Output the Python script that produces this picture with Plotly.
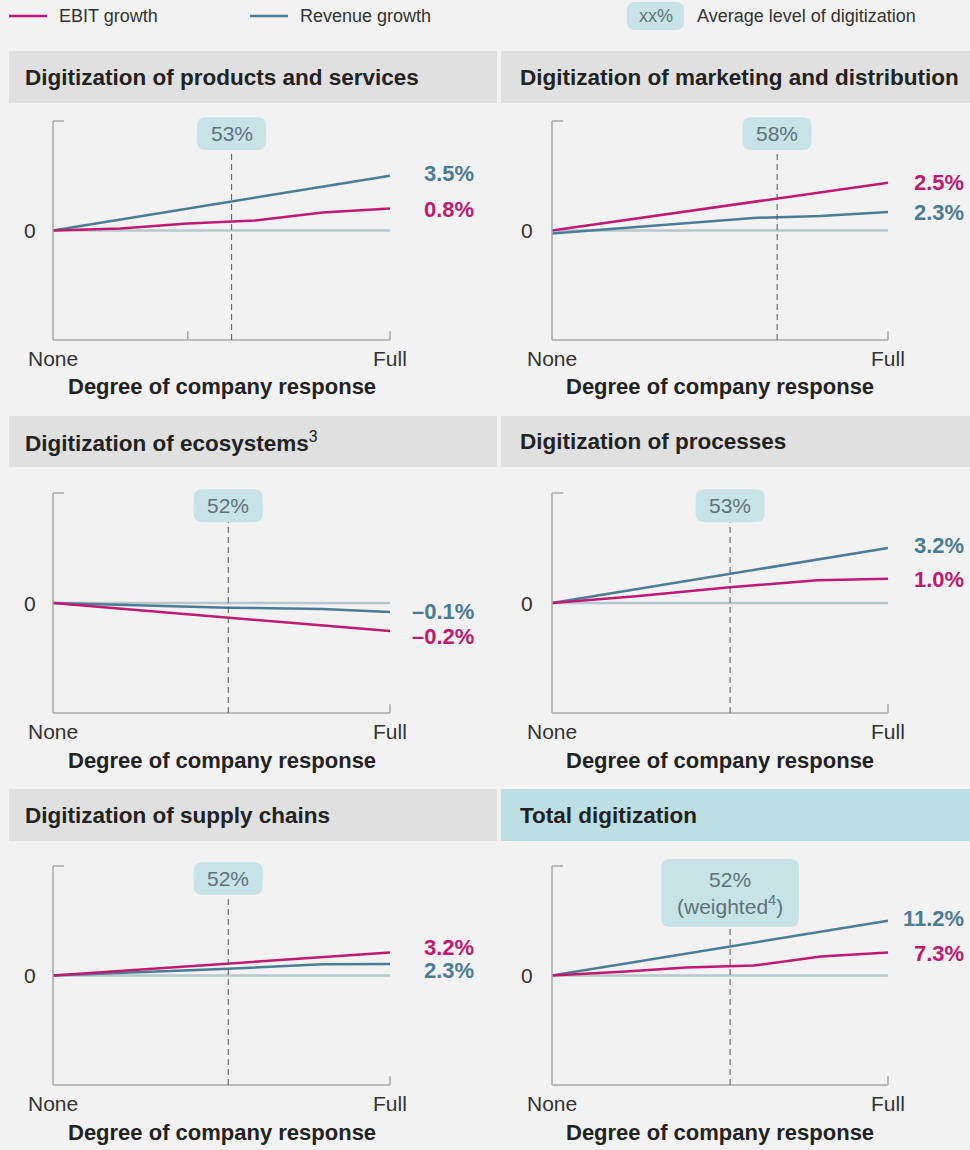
import plotly.graph_objects as go

W, H = 970, 1150

# ---------------- data ----------------
panel_titles = [
    "Digitization of products and services",
    "Digitization of marketing and distribution",
    "Digitization of ecosystems<span style='font-weight:normal'><sup>3</sup></span>",
    "Digitization of processes",
    "Digitization of supply chains",
    "Total digitization",
]
avg_labels = ["53%", "58%", "52%", "53%", "52%", "52%<br>(weighted<sup>4</sup>)"]
avg_marker_pos = [53, 67, 52, 53, 52, 53]   # degree of response where dashed line sits

# schematic line shapes (relative units, 0 = no change)
ebit_x = [
    [0, 20, 40, 60, 80, 100],
    [0, 20, 40, 60, 80, 100],
    [0, 52, 80, 100],
    [0, 25, 53, 79, 100],
    [0, 52, 100],
    [0, 22, 40, 60, 80, 100],
]
ebit_y = [
    [0, 0.18, 0.64, 0.91, 1.64, 2.0],
    [0, 0.87, 1.75, 2.62, 3.5, 4.36],
    [0, -1.34, -2.03, -2.55],
    [0, 0.61, 1.43, 2.06, 2.21],
    [0, 1.12, 2.09],
    [0, 0.36, 0.73, 0.91, 1.73, 2.09],
]
rev_x = [
    [0, 20, 40, 60, 80, 100],
    [0, 20, 40, 60, 80, 100],
    [0, 52, 80, 100],
    [0, 53, 100],
    [0, 52, 80, 100],
    [0, 20, 40, 60, 80, 100],
]
rev_y = [
    [0, 1.0, 2.0, 3.0, 4.0, 5.0],
    [-0.27, 0.2, 0.7, 1.15, 1.33, 1.7],
    [0, -0.43, -0.55, -0.82],
    [0, 2.64, 5.0],
    [0, 0.61, 1.03, 1.06],
    [0, 1.0, 2.0, 3.0, 4.0, 5.0],
]
ebit_growth = ["0.8%", "2.5%", "–0.2%", "1.0%", "3.2%", "7.3%"]
revenue_growth = ["3.5%", "2.3%", "–0.1%", "3.2%", "2.3%", "11.2%"]

# ---------------- style / layout ----------------
MAGENTA = "#bf1a6f"
BLUE = "#4a7d94"
ZERO = "#b9c7ce"
AXIS = "#a8a8a8"
BOXC = "#c8e3e6"
BOXTXT = "#5f737b"
TXT = "#333333"
DARK = "#222222"
HDR = "#e0e0e0"
HDR_TOTAL = "#bddfe2"
FONT = "Liberation Sans, Arial, sans-serif"

# label y positions (axis units) for [ebit, revenue]
label_pos = [
    (1.96, 5.25),
    (4.34, 1.6),
    (-3.09, -0.73),
    (2.18, 5.27),
    (2.6, 0.5),
    (2.05, 5.25),
]

X0PX = [53, 552]
X1PX = [390, 888]
YTOP = [121, 493, 866]
YBOT = [340, 713, 1085]
HDR_Y = [(51, 103), (416, 467), (789, 841)]
HDR_X = [(9, 497), (501, 970)]
TITLE_X = [23, 518]
VAL_RIGHT = [476, 966]
ZERO_LBL_X = [30, 527]
NONE_DY = 18
DEG_DY = 47

XR = [-2, 102]
YR = [-10.5, 11]


def px(v):
    return v / W


def py(v):
    return 1 - v / H


def rrect(x0, x1, y0, y1, rx, ry):
    return (f"M{x0+rx},{y0} L{x1-rx},{y0} Q{x1},{y0} {x1},{y0+ry} "
            f"L{x1},{y1-ry} Q{x1},{y1} {x1-rx},{y1} L{x0+rx},{y1} "
            f"Q{x0},{y1} {x0},{y1-ry} L{x0},{y0+ry} Q{x0},{y0} {x0+rx},{y0} Z")


fig = go.Figure()
shapes = []
annotations = []
layout_axes = {}

for i in range(6):
    row, col = i // 2, i % 2
    n = i + 1
    xa = "x" if n == 1 else f"x{n}"
    ya = "y" if n == 1 else f"y{n}"
    xunit = (X1PX[col] - X0PX[col]) / 100
    yunit = (YBOT[row] - YTOP[row]) / 20
    xdom = [px(X0PX[col] + XR[0] * xunit), px(X0PX[col] + XR[1] * xunit)]
    ydom = [py(YBOT[row] + (-10 - YR[0]) * yunit), py(YTOP[row] - (YR[1] - 10) * yunit)]
    axkey = "xaxis" if n == 1 else f"xaxis{n}"
    aykey = "yaxis" if n == 1 else f"yaxis{n}"
    layout_axes[axkey] = dict(domain=xdom, range=XR, visible=False, anchor=ya, fixedrange=True)
    layout_axes[aykey] = dict(domain=ydom, range=YR, visible=False, anchor=xa, fixedrange=True)

    # header band
    shapes.append(dict(type="rect", xref="paper", yref="paper",
                       x0=px(HDR_X[col][0]), x1=px(HDR_X[col][1]),
                       y0=py(HDR_Y[row][1]), y1=py(HDR_Y[row][0]),
                       fillcolor=HDR_TOTAL if i == 5 else HDR, line_width=0, layer="below"))
    annotations.append(dict(xref="paper", yref="paper", x=px(TITLE_X[col]),
                            y=py((HDR_Y[row][0] + HDR_Y[row][1]) / 2),
                            xanchor="left", yanchor="middle", showarrow=False,
                            text=f"<b>{panel_titles[i]}</b>",
                            font=dict(family=FONT, size=22.5, color=DARK)))

    # axes frame
    shapes.append(dict(type="line", xref=xa, yref=ya, x0=0, x1=0, y0=-10, y1=10,
                       line=dict(color=AXIS, width=1.5)))
    shapes.append(dict(type="line", xref=xa, yref=ya, x0=0, x1=3.3, y0=10, y1=10,
                       line=dict(color=AXIS, width=1.5)))
    shapes.append(dict(type="line", xref=xa, yref=ya, x0=0, x1=100, y0=-10, y1=-10,
                       line=dict(color=AXIS, width=1.5)))
    shapes.append(dict(type="line", xref=xa, yref=ya, x0=100, x1=100, y0=-10, y1=-9.2,
                       line=dict(color=AXIS, width=1.5)))
    if i == 0:
        shapes.append(dict(type="line", xref=xa, yref=ya, x0=40, x1=40, y0=-10, y1=-9.2,
                           line=dict(color=AXIS, width=1.5)))
    # zero line
    shapes.append(dict(type="line", xref=xa, yref=ya, x0=0, x1=100, y0=0, y1=0,
                       line=dict(color=ZERO, width=2.5), layer="below"))

    # average-level marker
    two_line = "<br>" in avg_labels[i]
    hw = 20.5 if two_line else 10.25
    by0 = 4.43 if two_line else 7.35
    by1 = 10.64 if two_line else 10.35
    xc = avg_marker_pos[i]
    shapes.append(dict(type="line", xref=xa, yref=ya, x0=xc, x1=xc, y0=-10, y1=by0,
                       line=dict(color="#555555", width=1, dash="6px,4px")))
    shapes.append(dict(type="path", xref=xa, yref=ya,
                       path=rrect(xc - hw, xc + hw, by0, by1, 2.6, 0.8),
                       fillcolor=BOXC, line_width=0))
    annotations.append(dict(xref=xa, yref=ya, x=xc, y=(by0 + by1) / 2,
                            text=avg_labels[i], showarrow=False,
                            xanchor="center", yanchor="middle",
                            font=dict(family=FONT, size=21, color=BOXTXT)))

    # series
    fig.add_trace(go.Scatter(x=rev_x[i], y=rev_y[i], mode="lines", xaxis=xa, yaxis=ya,
                             line=dict(color=BLUE, width=2.5), showlegend=False,
                             hoverinfo="skip"))
    fig.add_trace(go.Scatter(x=ebit_x[i], y=ebit_y[i], mode="lines", xaxis=xa, yaxis=ya,
                             line=dict(color=MAGENTA, width=2.5), showlegend=False,
                             hoverinfo="skip"))

    # end labels
    ey, ry = label_pos[i]
    annotations.append(dict(xref="paper", yref=ya, x=px(VAL_RIGHT[col]), y=ey,
                            xanchor="right", yanchor="middle", showarrow=False,
                            text=f"<b>{ebit_growth[i]}</b>",
                            font=dict(family=FONT, size=22, color=MAGENTA)))
    annotations.append(dict(xref="paper", yref=ya, x=px(VAL_RIGHT[col]), y=ry,
                            xanchor="right", yanchor="middle", showarrow=False,
                            text=f"<b>{revenue_growth[i]}</b>",
                            font=dict(family=FONT, size=22, color=BLUE)))

    # axis texts
    annotations.append(dict(xref="paper", yref=ya, x=px(ZERO_LBL_X[col]), y=0,
                            xanchor="center", yanchor="middle", showarrow=False,
                            text="0", font=dict(family=FONT, size=21, color=TXT)))
    annotations.append(dict(xref=xa, yref="paper", x=0, y=py(YBOT[row] + NONE_DY),
                            xanchor="center", yanchor="middle", showarrow=False,
                            text="None", font=dict(family=FONT, size=21, color=TXT)))
    annotations.append(dict(xref=xa, yref="paper", x=100, y=py(YBOT[row] + NONE_DY),
                            xanchor="center", yanchor="middle", showarrow=False,
                            text="Full", font=dict(family=FONT, size=21, color=TXT)))
    annotations.append(dict(xref=xa, yref="paper", x=50, y=py(YBOT[row] + DEG_DY),
                            xanchor="center", yanchor="middle", showarrow=False,
                            text="<b>Degree of company response</b>",
                            font=dict(family=FONT, size=22, color=DARK)))

# ---------------- legend (top) ----------------
legend_items = [("EBIT growth", MAGENTA, 9, 57), ("Revenue growth", BLUE, 250, 298)]
for name, colr, lx, tx in legend_items:
    shapes.append(dict(type="line", xref="paper", yref="paper", x0=px(lx), x1=px(lx + 38),
                       y0=py(16), y1=py(16), line=dict(color=colr, width=2.5)))
    annotations.append(dict(xref="paper", yref="paper", x=px(tx), y=py(16),
                            xanchor="left", yanchor="middle", showarrow=False, text=name,
                            font=dict(family=FONT, size=18, color=TXT)))

# xx% box (paper path, rounded)
bx0, bx1, by0p, by1p = px(627), px(684), py(30), py(2)
rxp, ryp = px(8), 8 / H
shapes.append(dict(type="path", xref="paper", yref="paper",
                   path=rrect(bx0, bx1, by0p, by1p, rxp, ryp),
                   fillcolor=BOXC, line_width=0))
annotations.append(dict(xref="paper", yref="paper", x=(bx0 + bx1) / 2, y=py(16),
                        xanchor="center", yanchor="middle", showarrow=False, text="xx%",
                        font=dict(family=FONT, size=18, color=BOXTXT)))
annotations.append(dict(xref="paper", yref="paper", x=px(695), y=py(16),
                        xanchor="left", yanchor="middle", showarrow=False,
                        text="Average level of digitization",
                        font=dict(family=FONT, size=18, color=TXT)))

fig.update_layout(
    width=W, height=H,
    margin=dict(l=0, r=0, t=0, b=0),
    paper_bgcolor="#f2f2f2",
    plot_bgcolor="rgba(0,0,0,0)",
    shapes=shapes,
    annotations=annotations,
    showlegend=False,
    **layout_axes,
)

fig.write_html("out.html", config={"displayModeBar": False},
               post_script="document.body.style.margin='0';document.body.style.background='#f2f2f2';")
